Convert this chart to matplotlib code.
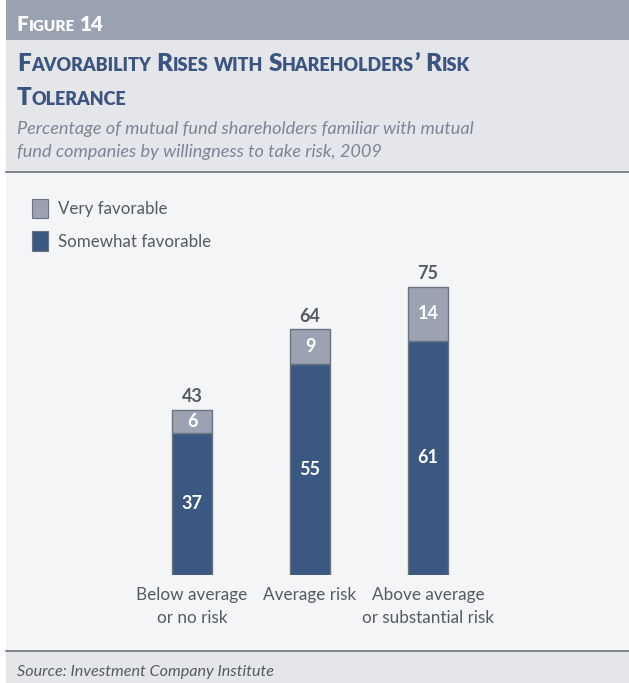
import matplotlib
matplotlib.use("Agg")
import matplotlib.pyplot as plt
from matplotlib.patches import Rectangle

# data
categories = ["Below average\nor no risk", "Average risk", "Above average\nor substantial risk"]
somewhat = [37, 55, 61]
very = [6, 9, 14]
totals = [43, 64, 75]

W, H = 629, 683
DARK = "#3a5882"
LIGHT = "#9ba3b3"
EDGE = "#6b7280"
TXT = "#555a63"
FONT = "Lato"

plt.rcParams['font.family'] = [FONT, 'DejaVu Sans']

fig = plt.figure(figsize=(W / 100, H / 100), dpi=100)
fig.patch.set_facecolor("white")

# background panels (pixel coords)
bg = fig.add_axes([0, 0, 1, 1])
bg.set_xlim(0, W)
bg.set_ylim(H, 0)
bg.axis("off")
bg.add_patch(Rectangle((6, 0), W, 40, color="#9aa2b2", lw=0))
bg.add_patch(Rectangle((6, 40), W, 132, color="#e5e6ea", lw=0))
bg.add_patch(Rectangle((6, 172), W, 479, color="#f4f5f7", lw=0))
bg.add_patch(Rectangle((6, 651), W, 40, color="#e5e6ea", lw=0))
bg.plot([6, W], [172, 172], color="#6e727a", lw=1.2)
bg.plot([6, W], [651, 651], color="#6e727a", lw=1.2)

renderer = fig.canvas.get_renderer()


def small_caps(x, y, s, big, small, color, weight="heavy"):
    # draw text in small caps, x,y in pixels from top-left (baseline)
    px = x
    runs = []
    for ch in s:
        low = ch.islower()
        if runs and runs[-1][1] == low:
            runs[-1][0] += ch
        else:
            runs.append([ch, low])
    for txt, low in runs:
        size = small if low else big
        for j, word in enumerate(txt.split(" ")):
            if j > 0:
                t1 = fig.text(0, 0, "XX", fontsize=size, weight=weight)
                t2 = fig.text(0, 0, "X X", fontsize=size, weight=weight)
                sp = t2.get_window_extent(renderer).width - t1.get_window_extent(renderer).width
                t1.remove()
                t2.remove()
                px += sp
            if not word:
                continue
            t = fig.text(px / W, 1 - y / H, word.upper(), fontsize=size, weight=weight,
                         color=color, va="baseline", ha="left")
            px += t.get_window_extent(renderer).width


small_caps(17, 31, "Figure 14", 14.8, 11, "white")
small_caps(17, 71, "Favorability Rises with Shareholders\u2019 Risk", 17.5, 13, "#3a5580")
small_caps(17, 105, "Tolerance", 17.5, 13, "#3a5580")

fig.text(17 / W, 1 - 134 / H, "Percentage of mutual fund shareholders familiar with mutual",
         fontsize=13.1, style="italic", color="#7d8496", va="baseline")
fig.text(17 / W, 1 - 157 / H, "fund companies by willingness to take risk, 2009",
         fontsize=13.1, style="italic", color="#7d8496", va="baseline")
fig.text(17 / W, 1 - 676 / H, "Source: Investment Company Institute",
         fontsize=11.6, style="italic", color=TXT, va="baseline")

# bar axes: x 74..546 px, bottom at 575 px, 3.84 px per unit
ax = fig.add_axes([74 / W, 1 - 575 / H, 472 / W, 80 * 3.84 / H])
ax.set_xlim(-1, 3)
ax.set_ylim(0, 80)
ax.axis("off")
pos = list(range(len(categories)))
bw = 40 / 118
ax.bar(pos, somewhat, width=bw, color=DARK, edgecolor=EDGE, linewidth=1)
ax.bar(pos, very, bottom=somewhat, width=bw, color=LIGHT, edgecolor=EDGE, linewidth=1)

for i in pos:
    ax.text(i, somewhat[i] / 2, str(somewhat[i]), ha="center", va="center",
            color="white", fontsize=13, weight="bold")
    ax.text(i, somewhat[i] + very[i] / 2, str(very[i]), ha="center", va="center",
            color="white", fontsize=13, weight="bold")
    ax.text(i, totals[i] + 1.2, str(totals[i]), ha="center", va="bottom",
            color=TXT, fontsize=13, weight="bold")
    ax.text(i, -3.0, categories[i], ha="center", va="top", color=TXT,
            fontsize=12.3, linespacing=1.6)

# legend
bg.add_patch(Rectangle((32, 199), 16, 19, facecolor=LIGHT, edgecolor=EDGE, lw=0.8))
bg.add_patch(Rectangle((32, 231), 16, 20, facecolor=DARK, edgecolor=EDGE, lw=0.8))
bg.text(58, 209, "Very favorable", va="center", ha="left", fontsize=12.2, color=TXT)
bg.text(58, 242, "Somewhat favorable", va="center", ha="left", fontsize=12.2, color=TXT)

fig.savefig("out.png", dpi=100, facecolor=fig.get_facecolor())
